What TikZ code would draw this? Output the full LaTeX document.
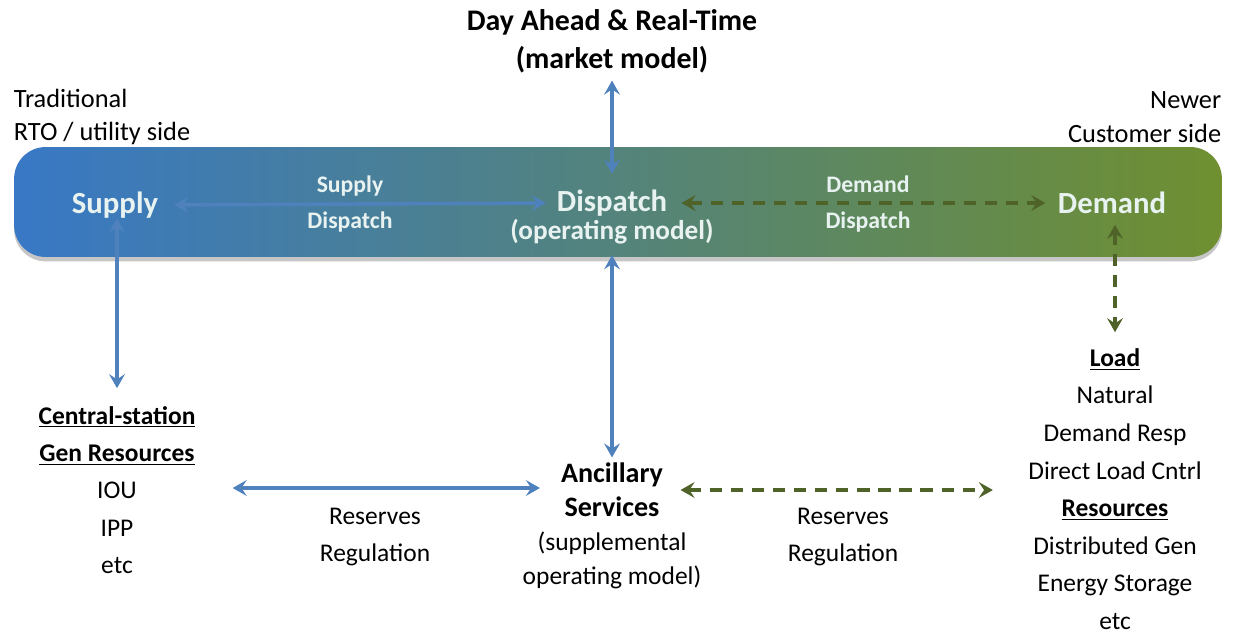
\documentclass[tikz,border=0pt]{standalone}
\usepackage{fontspec}
\setmainfont{Carlito}
\usetikzlibrary{positioning, arrows.meta, shadows}

\definecolor{barblue}{HTML}{3878C6}
\definecolor{barteal}{HTML}{417C84}
\definecolor{bargreen}{HTML}{6F8F30}
\definecolor{bartext}{HTML}{E8F3F1}
\definecolor{linkblue}{HTML}{4F81BD}
\definecolor{linkgreen}{HTML}{4F6228}

\tikzset{
  bigtxt/.style={font=\fontsize{17.5}{21}\selectfont\bfseries, text=bartext, inner sep=2pt},
  smalltxt/.style={font=\fontsize{13.5}{20}\selectfont\bfseries, text=bartext, align=center, inner sep=2pt},
  plain/.style={font=\fontsize{14.5}{21.3}\selectfont, align=center, inner sep=2pt},
  bluelink/.style={<->, linkblue, line width=2pt},
  greenlink/.style={<->, linkgreen, line width=2.2pt, dash pattern=on 7pt off 5pt},
}

\begin{document}
\begin{tikzpicture}[x=0.02cm, y=-0.02cm, >={Stealth[length=8pt, width=9pt, inset=3pt]}]
\useasboundingbox (0,0) rectangle (1233,635);

% the bar
\node[draw=none, rounded corners=18pt, minimum width=24.16cm, minimum height=2.2cm,
      left color=barblue, middle color=barteal, right color=bargreen,
      drop shadow={shadow xshift=0pt, shadow yshift=-2.5pt, opacity=.45}] (bar) at (618,202) {};

% top labels
\node[font=\fontsize{17}{21.5}\selectfont\bfseries, align=center] (market) at (612,41) {Day Ahead \& Real-Time\\(market model)};
\node[plain, anchor=west, align=left, font=\fontsize{15}{19}\selectfont] (trad) at (10,117) {Traditional\\RTO / utility side};
\node[plain, anchor=east, align=right, font=\fontsize{15}{19}\selectfont] (newer) at (1225,117) {Newer\\Customer side};

% inside the bar
\node[bigtxt] (supply) at (115,205) {Supply};
\node[bigtxt] (dispatch) at (612,203) {Dispatch};
\node[font=\fontsize{15.5}{19}\selectfont\bfseries, text=bartext, inner sep=1pt] (opmodel) at (612,232) {(operating model)};
\node[bigtxt] (demand) at (1112,203) {Demand};
\node[smalltxt] (suplab) at (350,204) {Supply\\Dispatch};
\node[smalltxt] (demlab) at (868,204) {Demand\\Dispatch};

% lower blocks
\node[plain] (central) at (117,490) {\textbf{\underline{Central-station}}\\\textbf{\underline{Gen Resources}}\\IOU\\IPP\\etc};
\node[plain, font=\fontsize{14.5}{19.3}\selectfont] (ancillary) at (612,526)
  {{\fontsize{16}{19.3}\selectfont\bfseries Ancillary}\\{\fontsize{16}{19.3}\selectfont\bfseries Services}\\(supplemental\\operating model)};
\node[plain, font=\fontsize{14.5}{21.4}\selectfont] (load) at (1115,489)
  {\textbf{\underline{Load}}\\Natural\\Demand Resp\\Direct Load Cntrl\\\textbf{\underline{Resources}}\\Distributed Gen\\Energy Storage\\etc};
\node[plain] (reslab1) at (375,537) {Reserves\\Regulation};
\node[plain] (reslab2) at (843,537) {Reserves\\Regulation};

\coordinate (bluerow) at (0,488);
\coordinate (greenrow) at (0,490);

% connectors
\draw[bluelink, shorten <=7pt, shorten >=4pt] (supply.east) -- (dispatch.west);
\draw[greenlink, shorten <=6pt, shorten >=5pt] (dispatch.east) -- (demand.west);
\draw[bluelink, shorten <=1pt, shorten >=7pt] (market.south) -- (dispatch.north);
\draw[bluelink, shorten <=5pt, shorten >=1pt] (opmodel.south -| ancillary.north) -- (ancillary.north);
\draw[bluelink, shorten <=-2pt, shorten >=8pt] (supply.south -| central.north) -- (central.north);
\draw[greenlink, shorten <=4pt, shorten >=7pt] (demand.south -| load.north) -- (load.north);
\draw[bluelink, shorten <=19pt, shorten >=-12pt] (central.east |- bluerow) -- (ancillary.west |- bluerow);
\draw[greenlink, shorten <=-14pt, shorten >=18pt] (ancillary.east |- greenrow) -- (load.west |- greenrow);

\end{tikzpicture}
\end{document}
